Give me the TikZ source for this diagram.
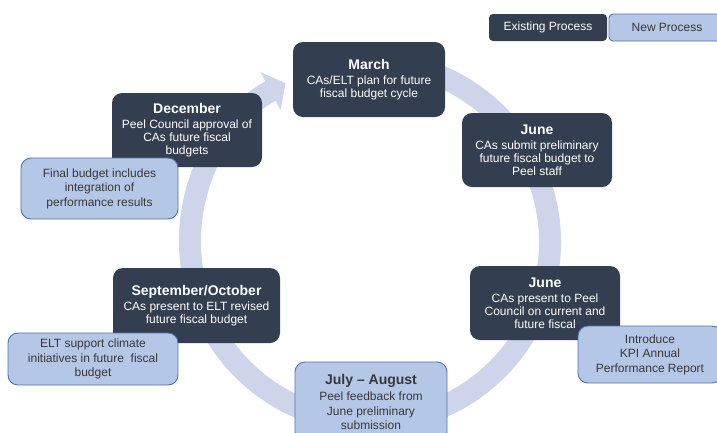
\documentclass[tikz,border=0pt]{standalone}
\usepackage{fontspec}
\setmainfont{Liberation Sans}
\usepackage{tikz}
\usetikzlibrary{arrows.meta}
\definecolor{slate}{HTML}{333F50}
\definecolor{paleblue}{HTML}{B4C7E7}
\definecolor{edgeblue}{HTML}{5274AE}
\definecolor{ringblue}{HTML}{CED4E9}
\tikzset{
  existing/.style={draw=none, fill=slate, text=white, rounded corners=10pt, align=center, inner sep=2pt, font=\fontsize{12}{13}\selectfont},
  proposed/.style={draw=edgeblue, line width=0.9pt, fill=paleblue, text=black!78, rounded corners=10pt, align=center, inner sep=2pt, font=\fontsize{12}{14.5}\selectfont},
  keybox/.style={rounded corners=4pt, minimum height=27pt},
}
\newcommand{\oldstep}[6]{\node[existing,minimum width=#4pt,minimum height=#5pt] (#1) at ( #2 , #3 ) {#6};}
\newcommand{\addstep}[6]{\node[proposed,minimum width=#4pt,minimum height=#5pt] (#1) at ( #2 , #3 ) {#6};}
\newcommand{\mhead}[1]{{\fontsize{14}{15}\selectfont\bfseries #1}\\[2pt]}

\begin{document}
\begin{tikzpicture}[x=1pt,y=-1pt]
        \clip (0,0) rectangle (717,432);
        \coordinate (ring) at (370,242);

        % ring
        \draw[ringblue, line width=22pt, -{Triangle[width=42pt,length=17pt]}]
            (ring) ++(-100:180) arc[start angle=-100, end angle=242, radius=180];

        % months
        \oldstep{march}{369}{79.5}{152}{75}{\mhead{March}CAs/ELT plan for future\\fiscal budget cycle}
        \oldstep{junesub}{537}{150}{150}{74}{\mhead{June}CAs submit preliminary\\future fiscal budget to\\Peel staff}
        \oldstep{junepres}{545}{303}{150}{74}{\mhead{June}CAs present to Peel\\Council on current and\\future fiscal}
        \oldstep{septoct}{196.5}{305.5}{167}{75}{\mhead{September/October}CAs present to ELT revised\\future fiscal budget}
        \oldstep{december}{187}{130}{150}{74}{\mhead{December}Peel Council approval of\\CAs future fiscal\\budgets}

        % new steps
        \addstep{julyaug}{371}{402}{152}{80}{\mhead{July – August}Peel feedback from\\June preliminary\\submission}
        \addstep{kpi}{650}{354.5}{144}{57}{Introduce\\KPI Annual\\Performance Report}
        \addstep{eltclimate}{93}{359}{170}{52}{ELT support climate\\initiatives in future~ fiscal\\budget}
        \addstep{finalbudget}{99.5}{188.5}{157}{61}{Final budget includes\\integration of\\performance results}

        % key
        \node[existing,keybox,minimum width=118pt] (keyold) at (548,27.5) {Existing Process};
        \node[proposed,keybox,minimum width=116pt] (keynew) at (667,27.5) {New Process};
\end{tikzpicture}
\end{document}
